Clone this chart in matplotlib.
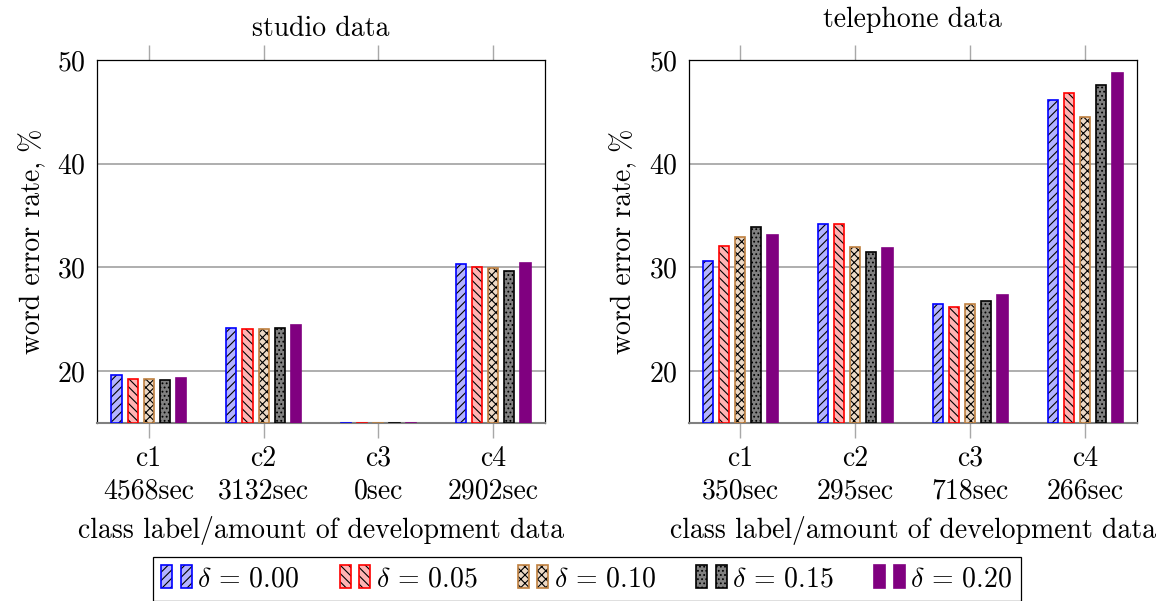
import numpy as np
import matplotlib
matplotlib.use('Agg')
import matplotlib.pyplot as plt
from matplotlib.patches import Rectangle
from matplotlib.legend_handler import HandlerBase

plt.rcParams['font.family'] = 'serif'
plt.rcParams['font.serif'] = ['cmr10']
plt.rcParams['mathtext.fontset'] = 'cm'
plt.rcParams['axes.unicode_minus'] = False
plt.rcParams['axes.formatter.use_mathtext'] = True
plt.rcParams['hatch.linewidth'] = 0.8

categories = ['c1', 'c2', 'c3', 'c4']
studio_secs = ['4568sec', '3132sec', '0sec', '2902sec']
phone_secs = ['350sec', '295sec', '718sec', '266sec']
deltas = ['0.00', '0.05', '0.10', '0.15', '0.20']

# word error rate (%) per delta, studio data
studio_d000 = [19.6, 24.2, 0.0, 30.3]
studio_d005 = [19.2, 24.1, 0.0, 30.0]
studio_d010 = [19.25, 24.1, 0.0, 29.9]
studio_d015 = [19.1, 24.2, 0.0, 29.65]
studio_d020 = [19.35, 24.45, 0.0, 30.4]

# word error rate (%) per delta, telephone data
phone_d000 = [30.6, 34.15, 26.45, 46.15]
phone_d005 = [32.1, 34.15, 26.2, 46.8]
phone_d010 = [32.9, 32.0, 26.45, 44.5]
phone_d015 = [33.9, 31.5, 26.75, 47.55]
phone_d020 = [33.1, 31.9, 27.3, 48.7]

edge_colors = ['#0000ff', '#ff0000', '#bf8040', '#000000', '#800080']
fill_colors = ['#b3b3ff', '#ffb3b3', '#ecd9c6', '#808080', '#800080']
hatches = ['////', '\\\\\\\\', 'xxxx', '....', None]

YMIN, YMAX = 15, 50
OFFSET = 0.14
WIDTH = 0.088
FS = 20


def draw(ax, series, secs, title, title_pad):
    x = np.arange(len(categories))
    for i, vals in enumerate(series):
        pos = x + (i - 2) * OFFSET
        h = np.array(vals) - YMIN
        ax.bar(pos, h, WIDTH, bottom=YMIN, color=fill_colors[i], edgecolor='black',
               hatch=hatches[i], linewidth=0, zorder=3)
        ax.bar(pos, h, WIDTH, bottom=YMIN, fill=False, edgecolor=edge_colors[i],
               linewidth=1.2, zorder=4)
    ax.set_xlim(-0.45, 3.45)
    ax.set_ylim(YMIN, YMAX)
    ax.set_yticks([20, 30, 40, 50])
    ax.set_xticks(x)
    ax.set_xticklabels([c + '\n' + s for c, s in zip(categories, secs)], fontsize=FS,
                       linespacing=1.35)
    ax.tick_params(axis='x', top=True, bottom=True, direction='out', length=11,
                   color='#a8a8a8', width=1, pad=5)
    ax.tick_params(axis='y', length=0, pad=8, labelsize=FS)
    ax.grid(axis='y', color='#a8a8a8', linewidth=1.3, zorder=1)
    ax.set_axisbelow(True)
    ax.spines['bottom'].set_color('#808080')
    ax.spines['bottom'].set_linewidth(1.5)
    for s in ['top', 'left', 'right']:
        ax.spines[s].set_linewidth(0.9)
    ax.set_title(title, fontsize=FS, pad=title_pad)
    ax.set_ylabel('word error rate, %', fontsize=FS, labelpad=8)
    ax.set_xlabel('class label/amount of development data', fontsize=FS, labelpad=8)


class PairHandler(HandlerBase):
    def create_artists(self, legend, orig_handle, xdescent, ydescent, width, height,
                       fontsize, trans):
        w = width * 0.36
        arts = []
        for x0 in (0, width - w):
            arts.append(Rectangle((x0 - xdescent, -ydescent), w, height,
                                  facecolor=orig_handle.get_facecolor(), edgecolor='black',
                                  hatch=orig_handle.get_hatch(), linewidth=0, transform=trans))
            arts.append(Rectangle((x0 - xdescent, -ydescent), w, height, fill=False,
                                  edgecolor=orig_handle.get_edgecolor(), linewidth=1.2,
                                  transform=trans))
        return arts


fig = plt.figure(figsize=(11.69, 6.01), dpi=100)
ax1 = fig.add_axes([0.0830, 0.2962, 0.3832, 0.604])
ax2 = fig.add_axes([0.5890, 0.2962, 0.3837, 0.604])

draw(ax1, [studio_d000, studio_d005, studio_d010, studio_d015, studio_d020],
     studio_secs, 'studio data', 17)
draw(ax2, [phone_d000, phone_d005, phone_d010, phone_d015, phone_d020],
     phone_secs, 'telephone data', 24)

proxies = [Rectangle((0, 0), 1, 1, facecolor=fill_colors[i], edgecolor=edge_colors[i],
                     hatch=hatches[i]) for i in range(len(deltas))]
labels = [r'$\delta\,=\,%s$' % d for d in deltas]
leg = fig.legend(proxies, labels, loc='upper center', bbox_to_anchor=(0.502, 1 - 557 / 601),
                 ncol=5, fontsize=FS, frameon=True, fancybox=False, edgecolor='black',
                 framealpha=1, borderaxespad=0, handlelength=1.1, handleheight=0.9,
                 handletextpad=0.2, columnspacing=1.45, borderpad=0.3,
                 handler_map={Rectangle: PairHandler()})
leg.get_frame().set_linewidth(0.9)

fig.savefig('out.png', dpi=100)
